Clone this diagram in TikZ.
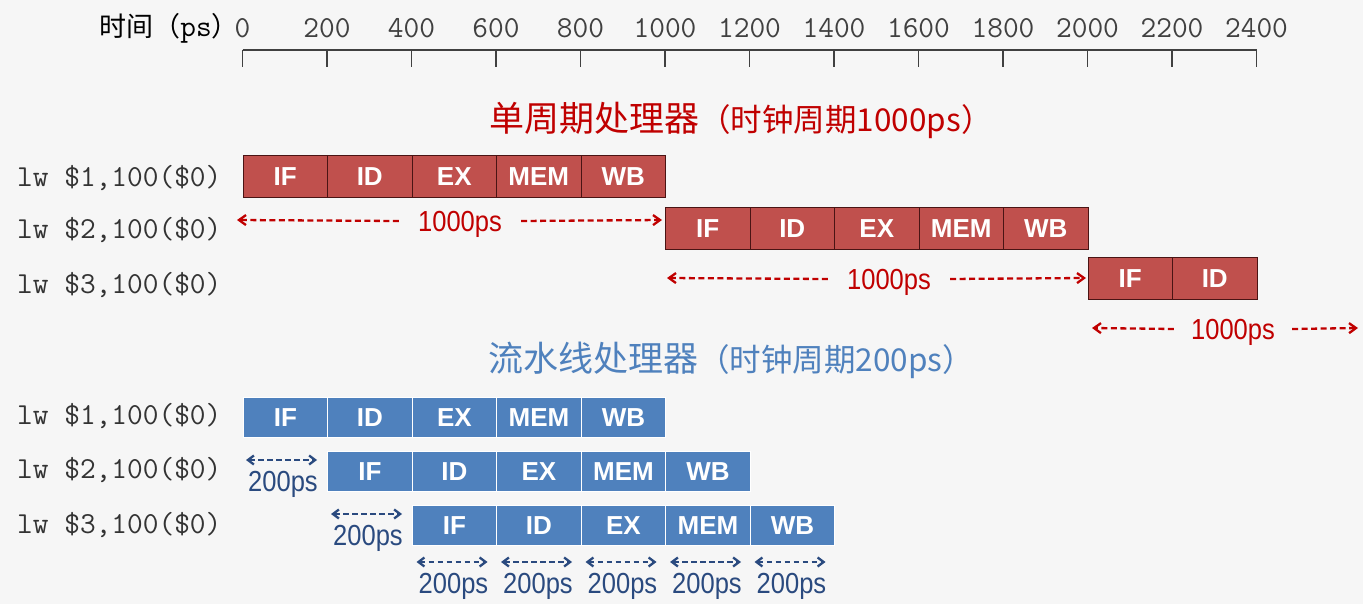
\documentclass[tikz,border=0pt]{standalone}
\usepackage{fontspec}
\setmainfont{Liberation Sans}
\newfontfamily\cjk{Noto Sans CJK SC}
\newfontfamily\narrowsans[FakeStretch=0.88]{Liberation Sans}
\usetikzlibrary{arrows.meta}
\definecolor{bgcol}{HTML}{F6F6F6}
\definecolor{boxred}{HTML}{C0504D}
\definecolor{boxredline}{HTML}{4A1414}
\definecolor{titlered}{HTML}{C00000}
\definecolor{arrowred}{HTML}{C00000}
\definecolor{boxblue}{HTML}{4F81BD}
\definecolor{titleblue}{HTML}{4F81BD}
\definecolor{darkblue}{HTML}{2A4A7F}
\definecolor{axiscol}{HTML}{404040}
\definecolor{txtgray}{HTML}{333333}
\begin{document}
\begin{tikzpicture}[x=1pt,y=-1pt,
  stage/.style={anchor=north west, minimum width=84.5pt, minimum height=42pt, inner sep=0pt, text=white, font=\fontsize{26}{30}\selectfont\bfseries},
  redstage/.style={stage, fill=boxred, draw=boxredline, line width=1pt},
  bluestage/.style={stage, minimum height=40pt, fill=boxblue, draw=white, line width=1.4pt},
  instr/.style={anchor=west, inner sep=0pt, text=txtgray, font=\fontsize{30.5}{34}\selectfont\ttfamily},
  ticklab/.style={inner sep=0pt, text=axiscol, font=\fontsize{30.5}{34}\selectfont\ttfamily},
  axisline/.style={draw=axiscol, line width=1.6pt},
  redlen/.style={inner ysep=0pt, inner xsep=19pt, text depth=0pt, text=arrowred, font=\narrowsans\fontsize{29}{31}\selectfont},
  bluelen/.style={inner sep=0pt, text depth=0pt, text=darkblue, font=\narrowsans\fontsize{29}{31}\selectfont},
  redarrow/.style={draw=arrowred, line width=2.3pt, dash pattern=on 6pt off 3.5pt, -{Straight Barb[length=7pt,width=10pt]}},
  bluearrow/.style={draw=darkblue, line width=2.3pt, dash pattern=on 5.5pt off 3.5pt, {Straight Barb[length=6pt,width=9pt]}-{Straight Barb[length=6pt,width=9pt]}},
  titletext/.style={inner sep=0pt}
]
\fill[bgcol] (0,0) rectangle (1363,604);
\useasboundingbox (0,0) rectangle (1363,604);

% time axis
\node[anchor=east, inner sep=0pt, text=black] (axtitle) at (239,28)
  {{\cjk\fontsize{27}{30}\selectfont 时间（}{\fontsize{30.5}{34}\selectfont\ttfamily ps}{\cjk\fontsize{27}{30}\selectfont ）}};
\draw[axisline] (242.5,50) -- (1256.5,50);
\foreach \k in {0,...,12} {
  \draw[axisline] ({242.5+84.5*\k},50) -- ({242.5+84.5*\k},67);
  \pgfmathtruncatemacro\v{200*\k}
  \node[ticklab] (tl\k) at ({242.5+84.5*\k},28) {\v};
}

% titles
\node[titletext, text=titlered] (redtitle) at (741,120)
  {{\cjk\fontsize{35}{40}\selectfont 单周期处理器}{\cjk\fontsize{31.5}{36}\selectfont （时钟周期1000ps）}};
\node[titletext, text=titleblue] (bluetitle) at (731,360)
  {{\cjk\fontsize{35}{40}\selectfont 流水线处理器}{\cjk\fontsize{31.5}{36}\selectfont （时钟周期200ps）}};

% instruction labels
\node[instr] (ri1) at (17,178) {lw \$1,100(\$0)};
\node[instr] (ri2) at (17,230) {lw \$2,100(\$0)};
\node[instr] (ri3) at (17,285) {lw \$3,100(\$0)};
\node[instr] (bi1) at (17,416) {lw \$1,100(\$0)};
\node[instr] (bi2) at (17,470) {lw \$2,100(\$0)};
\node[instr] (bi3) at (17,525) {lw \$3,100(\$0)};

% single-cycle stages
\foreach \lab [count=\i from 0] in {IF,ID,EX,MEM,WB}
  \node[redstage] (r1s\i) at ({242.5+84.5*\i},155) {\lab};
\foreach \lab [count=\i from 0] in {IF,ID,EX,MEM,WB}
  \node[redstage] (r2s\i) at ({242.5+84.5*(5+\i)},207) {\lab};
\foreach \lab [count=\i from 0] in {IF,ID}
  \node[redstage] (r3s\i) at ({242.5+84.5*(10+\i)},257) {\lab};

% pipelined stages
\foreach \lab [count=\i from 0] in {IF,ID,EX,MEM,WB}
  \node[bluestage] (b1s\i) at ({242.5+84.5*\i},397) {\lab};
\foreach \lab [count=\i from 0] in {IF,ID,EX,MEM,WB}
  \node[bluestage] (b2s\i) at ({242.5+84.5*(1+\i)},451) {\lab};
\foreach \lab [count=\i from 0] in {IF,ID,EX,MEM,WB}
  \node[bluestage] (b3s\i) at ({242.5+84.5*(2+\i)},505) {\lab};

% single-cycle 1000ps spans
\node[redlen] (len1) at (460,221) {1000ps};
\coordinate (len1l) at (237,220);
\coordinate (len1r) at (662,220);
\draw[redarrow] (len1.west) -- (len1l);
\draw[redarrow] (len1.east) -- (len1r);

\node[redlen] (len2) at (889,279) {1000ps};
\coordinate (len2l) at (667,278);
\coordinate (len2r) at (1086,278);
\draw[redarrow] (len2.west) -- (len2l);
\draw[redarrow] (len2.east) -- (len2r);

\node[redlen, inner xsep=17pt] (len3) at (1233,329) {1000ps};
\coordinate (len3l) at (1092,328);
\coordinate (len3r) at (1358,328);
\draw[redarrow] (len3.west) -- (len3l);
\draw[redarrow] (len3.east) -- (len3r);

% pipelined 200ps spans
\coordinate (p2l) at (246,460);
\coordinate (p2r) at (317,460);
\draw[bluearrow] (p2l) -- (p2r);
\node[bluelen] (p2t) at (283,481) {200ps};

\coordinate (p3l) at (331,514);
\coordinate (p3r) at (402,514);
\draw[bluearrow] (p3l) -- (p3r);
\node[bluelen] (p3t) at (368,535) {200ps};

\foreach \c in {2,...,6} {
  \coordinate (q\c l) at ({242.5+84.5*\c+5},562);
  \coordinate (q\c r) at ({242.5+84.5*\c+76},562);
  \draw[bluearrow] (q\c l) -- (q\c r);
  \node[bluelen] (q\c t) at ({242.5+84.5*\c+42},583) {200ps};
}
\end{tikzpicture}
\end{document}
